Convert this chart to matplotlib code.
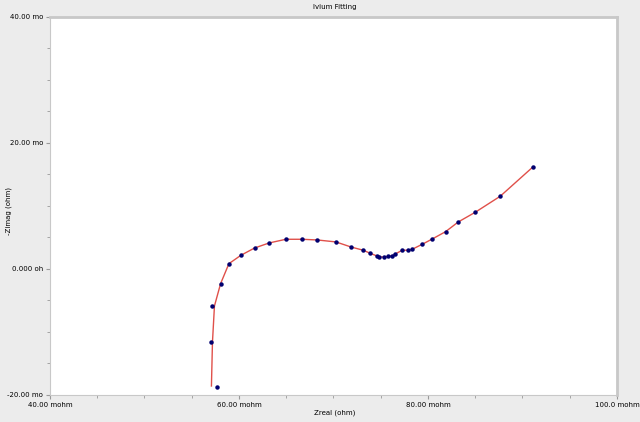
import matplotlib.pyplot as plt
from matplotlib.ticker import MultipleLocator

# measured impedance points (mohm)
zreal = [57.70, 57.07, 57.14, 58.06, 58.94, 60.21, 61.66, 63.21, 64.97, 66.67,
         68.29, 70.26, 71.85, 73.15, 73.89, 74.60, 74.85, 75.40, 75.82, 76.21,
         76.54, 77.28, 77.94, 78.34, 79.40, 80.46, 81.87, 83.21, 85.01, 87.65, 91.11]
zimag = [-18.78, -11.63, -5.92, -2.33, 0.84, 2.17, 3.33, 4.13, 4.71, 4.71,
         4.60, 4.29, 3.49, 2.97, 2.49, 2.06, 1.90, 1.90, 1.98, 2.10,
         2.38, 2.97, 2.97, 3.13, 3.92, 4.76, 5.92, 7.46, 9.00, 11.54, 16.19]

# fitted curve
fit_real = [57.09, 57.20, 57.41, 58.06, 58.94, 60.21, 61.66, 63.21, 64.97, 66.67,
            68.29, 70.26, 71.85, 73.15, 73.89, 74.60, 74.85, 75.40, 75.82, 76.21,
            76.54, 77.28, 77.94, 78.34, 79.40, 80.46, 81.87, 83.21, 85.01, 87.65, 91.11]
fit_imag = [-18.57, -11.59, -5.87, -2.33, 0.84, 2.17, 3.33, 4.13, 4.71, 4.71,
            4.60, 4.29, 3.49, 2.97, 2.49, 2.06, 1.90, 1.90, 1.98, 2.10,
            2.38, 2.97, 2.97, 3.13, 3.92, 4.76, 5.92, 7.46, 9.00, 11.54, 16.19]

xticks = [40, 60, 80, 100]
xlabels = ['40.00 mohm', '60.00 mohm', '80.00 mohm', '100.0 mohm']
yticks = [-20, 0, 20, 40]
ylabels = ['-20.00 mo', '0.000 oh', '20.00 mo', '40.00 mo']

fig = plt.figure(figsize=(6.4, 4.22), dpi=100, facecolor='#ececec')
ax = fig.add_axes([0.078, 0.064, 0.886, 0.896])
ax.set_facecolor('white')

ax.plot(fit_real, fit_imag, color='#e0504a', lw=1, zorder=2)
ax.plot(zreal, zimag, 'o', color='#000070', ms=2.2, zorder=3)

ax.set_xlim(40, 100)
ax.set_ylim(-20, 40)
ax.set_xticks(xticks)
ax.set_xticklabels(xlabels)
ax.set_yticks(yticks)
ax.set_yticklabels(ylabels)
ax.xaxis.set_minor_locator(MultipleLocator(5))
ax.yaxis.set_minor_locator(MultipleLocator(5))
ax.tick_params(labelsize=5, length=3, color='#999999', pad=2)
ax.tick_params(which='minor', length=2, color='#999999')

for s in ax.spines.values():
    s.set_color('#c8c8c8')
ax.spines['top'].set_linewidth(2)
ax.spines['right'].set_linewidth(2)

fig.text(0.523, 0.983, 'Ivium Fitting', fontsize=5, ha='center', va='center')
fig.text(0.523, 0.021, 'Zreal (ohm)', fontsize=5, ha='center', va='center')
fig.text(0.013, 0.50, '-Zimag (ohm)', fontsize=5, ha='center', va='center', rotation=90)

fig.savefig('out.png', dpi=100, facecolor=fig.get_facecolor())
